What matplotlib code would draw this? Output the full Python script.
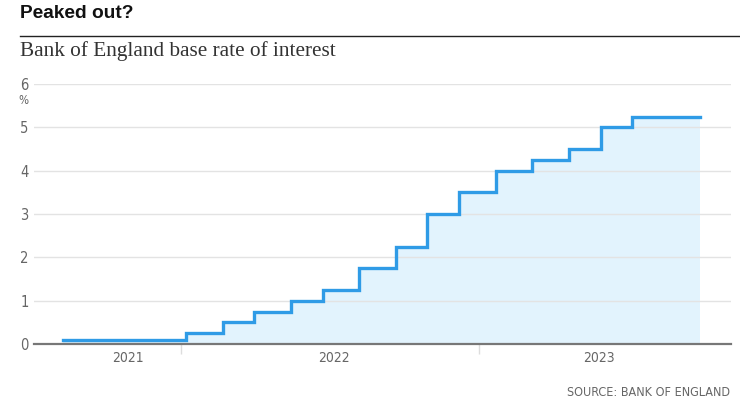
import numpy as np
import pandas as pd
import matplotlib
matplotlib.use("Agg")
import matplotlib.pyplot as plt
import matplotlib.dates as mdates
from matplotlib.lines import Line2D

# Bank of England base rate, date each rate came into force
change_dates = pd.to_datetime([
    "2021-07-05", "2021-12-16", "2022-02-03", "2022-03-17", "2022-05-05",
    "2022-06-16", "2022-08-04", "2022-09-22", "2022-11-03", "2022-12-15",
    "2023-02-02", "2023-03-23", "2023-05-11", "2023-06-22", "2023-08-03",
    "2023-11-02",
])
rates = [0.1, 0.25, 0.5, 0.75, 1.0, 1.25, 1.75, 2.25, 3.0, 3.5,
         4.0, 4.25, 4.5, 5.0, 5.25, 5.25]

year_labels = ["2021", "2022", "2023"]
year_label_dates = pd.to_datetime(["2021-09-30", "2022-07-01", "2023-06-20"])
year_sep_dates = pd.to_datetime(["2021-12-09", "2023-01-11"])
y_ticks = [0, 1, 2, 3, 4, 5, 6]

line_col = "#2f9be6"
fill_col = "#e2f3fd"
grey_txt = "#666666"

fig = plt.figure(figsize=(7.4, 4.16), dpi=100)
ax = fig.add_axes([34 / 740, 1 - 344 / 416, (731 - 34) / 740, (344 - 84) / 416])

x = mdates.date2num(change_dates)
ax.fill_between(x, rates, 0, step="post", color=fill_col, lw=0, zorder=1)
ax.step(x, rates, where="post", color=line_col, lw=2.4, zorder=3,
        solid_joinstyle="miter")

ax.set_xlim(mdates.date2num(pd.Timestamp("2021-05-27")),
            mdates.date2num(pd.Timestamp("2023-12-13")))
ax.set_ylim(0, 6)

ax.set_yticks(y_ticks)
ax.set_yticklabels([str(v) for v in y_ticks])
ax.yaxis.grid(True, color="#e3e3e3", lw=1, zorder=0)
ax.tick_params(axis="y", length=0, pad=4, labelsize=10.5, labelcolor=grey_txt)
for lab in ax.get_yticklabels():
    lab.set_fontstretch("condensed")

ax.set_xticks(mdates.date2num(year_label_dates))
ax.set_xticklabels(year_labels)
ax.set_xticks(mdates.date2num(year_sep_dates), minor=True)
ax.tick_params(axis="x", which="major", length=0, pad=5, labelsize=10,
               labelcolor=grey_txt)
ax.tick_params(axis="x", which="minor", length=7, width=1, color="#dddddd",
               direction="out")
for lab in ax.get_xticklabels():
    lab.set_fontstretch("condensed")

for side in ["top", "right", "left"]:
    ax.spines[side].set_visible(False)
ax.spines["bottom"].set_color("#777777")
ax.spines["bottom"].set_linewidth(1.6)
ax.spines["bottom"].set_zorder(4)

ax.text(-0.008, 5.63, "%", transform=ax.get_yaxis_transform(), ha="right",
        va="center", fontsize=8.5, color=grey_txt, fontstretch="condensed")

fig.text(20 / 740, 1 - 14 / 416, "Peaked out?", ha="left", va="center",
         fontsize=13.8, fontweight="bold", family="Liberation Sans", color="#111111")
fig.add_artist(Line2D([20 / 740, 1.0], [1 - 36 / 416, 1 - 36 / 416],
                      color="#222222", lw=1.0))
fig.text(20 / 740, 1 - 51 / 416, "Bank of England base rate of interest",
         ha="left", va="center", fontsize=15.3, family="Liberation Serif",
         color="#333333")
fig.text(730 / 740, 1 - 393 / 416, "SOURCE: BANK OF ENGLAND", ha="right",
         va="center", fontsize=9, color=grey_txt, fontstretch="condensed")

fig.savefig("out.png", dpi=100)
